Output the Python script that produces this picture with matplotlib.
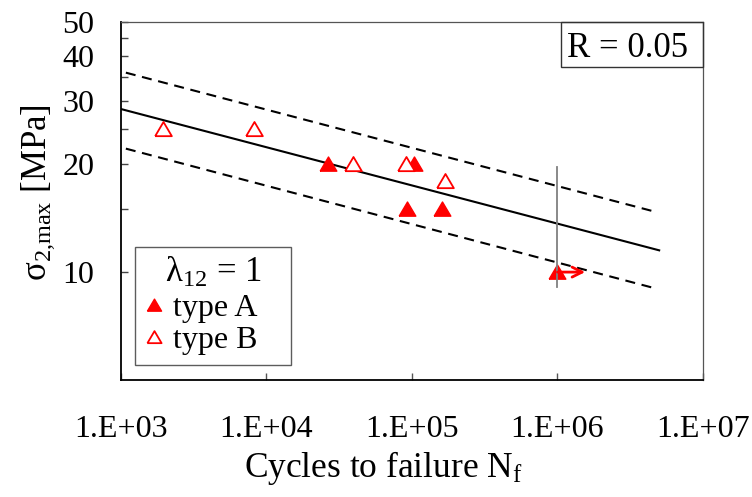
import matplotlib
matplotlib.use("Agg")
import matplotlib.pyplot as plt
from matplotlib.ticker import FixedLocator, NullFormatter
from matplotlib.patches import Rectangle

plt.rcParams["font.family"] = ["Liberation Serif", "DejaVu Serif"]
plt.rcParams["mathtext.fontset"] = "custom"
plt.rcParams["mathtext.rm"] = "Liberation Serif"
plt.rcParams["mathtext.it"] = "Liberation Serif:italic"

# Fatigue test results (cycles to failure, max stress in MPa)
typeA_N = [2.66e4, 1.04e5, 9.3e4, 1.61e5, 1.0e6]
typeA_S = [20, 20, 15, 15, 10]
typeB_N = [1.95e3, 8.2e3, 3.95e4, 9.1e4, 1.69e5]
typeB_S = [25, 25, 20, 20, 18]

# S-N curve (median) and scatter band, end points
fit_N = [1.0e3, 5.0e6]
fit_median = [28.5, 11.5]
band_N = [1.08e3, 4.5e6]
band_upper = [36.0, 14.8]
band_lower = [22.1, 9.05]

# Run-out marker at 1e6 cycles
runout_N = [1.0e6, 1.0e6]
runout_S = [9.1, 19.6]
arrow_N = [1.0e6, 1.55e6]
arrow_S = 10

xticks = [1e3, 1e4, 1e5, 1e6, 1e7]
xticklabels = ["1.E+03", "1.E+04", "1.E+05", "1.E+06", "1.E+07"]
yticks = [10, 20, 30, 40, 50]
yminor = [15, 25, 35, 45]

tri = [(-1.0, -0.8), (1.0, -0.8), (0.0, 0.9), (-1.0, -0.8)]

fig = plt.figure(figsize=(7.52, 4.97), dpi=100)
ax = fig.add_axes([0.1609, 0.2354, 0.7739, 0.7213])
ax.set_xscale("log")
ax.set_yscale("log")
ax.set_xlim(1e3, 1e7)
ax.set_ylim(5, 50)

ax.plot(fit_N, fit_median, color="black", lw=1.5, zorder=2)
ax.plot(band_N, band_upper, color="black", lw=1.5, dashes=(4.8, 3.2), zorder=2)
ax.plot(band_N, band_lower, color="black", lw=1.5, dashes=(4.8, 3.2), zorder=2)

hA, = ax.plot(typeA_N, typeA_S, linestyle="none", marker=tri, ms=12,
              mfc="red", mec="red", mew=1.0, zorder=3, label="type A   ")
hB, = ax.plot(typeB_N, typeB_S, linestyle="none", marker=tri, ms=12,
              mfc="white", mec="red", mew=1.3, zorder=3, label="type B   ")

ax.plot(runout_N, runout_S, color="#808080", lw=1.3, zorder=4)
ax.annotate("", xy=(arrow_N[1], arrow_S), xytext=(arrow_N[0], arrow_S),
            arrowprops=dict(arrowstyle="->", color="red", lw=2.0,
                            mutation_scale=18, shrinkA=0, shrinkB=0),
            zorder=5)

# axes styling
for side in ("left", "bottom"):
    ax.spines[side].set_linewidth(1.3)
    ax.spines[side].set_color("black")
for side in ("top", "right"):
    ax.spines[side].set_linewidth(0.9)
    ax.spines[side].set_color("#555555")

ax.xaxis.set_major_locator(FixedLocator(xticks))
ax.set_xticklabels(xticklabels)
ax.xaxis.set_minor_locator(FixedLocator([]))
ax.yaxis.set_major_locator(FixedLocator(yticks))
ax.set_yticklabels([str(v) for v in yticks])
ax.yaxis.set_minor_locator(FixedLocator(yminor))
ax.yaxis.set_minor_formatter(NullFormatter())

ax.tick_params(axis="x", which="both", direction="in", length=5, width=1,
               color="#555555", labelsize=23, pad=25)
ax.tick_params(axis="y", which="both", direction="in", length=5, width=1,
               color="#444444", labelsize=23, pad=19)

ax.set_xlabel(r"Cycles to failure N$\mathregular{_f}$", fontsize=25.5,
              labelpad=4, x=0.45)
ax.set_ylabel(r"σ$\mathregular{_{2{,}max}}$ [MPa]", fontsize=25, labelpad=4,
              y=0.524)

# R-ratio box in the top-right corner
ax.add_patch(Rectangle((0.756, 0.874), 0.244, 0.126, transform=ax.transAxes,
                       fill=False, edgecolor="#333333", lw=1.0, zorder=6,
                       clip_on=False))
ax.text(0.767, 0.9018, "R = 0.05", transform=ax.transAxes, fontsize=25,
        ha="left", va="baseline", zorder=7)

leg = ax.legend(handles=[hA, hB], loc="lower left",
                bbox_to_anchor=(0.024, 0.042), borderaxespad=0,
                title=r"λ$\mathregular{_{12}}$ = 1", title_fontsize=25,
                fontsize=23, frameon=True, fancybox=False, shadow=False,
                handlelength=0.6, handletextpad=0.3, borderpad=0.3,
                labelspacing=0.1, markerscale=0.85)
leg.get_frame().set_edgecolor("#333333")
leg.get_frame().set_linewidth(1.0)

fig.savefig("out.png", dpi=100)
